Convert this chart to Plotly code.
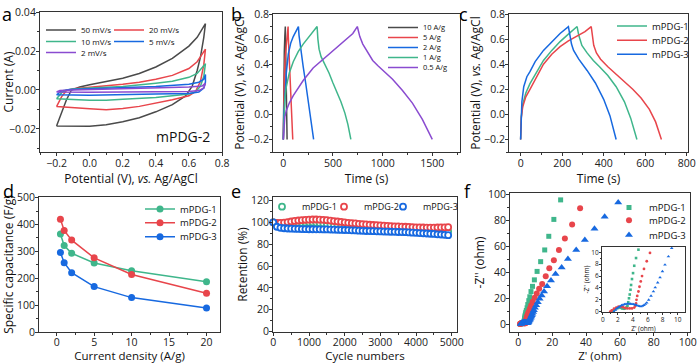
import plotly.graph_objects as go

W, H = 700, 363
FONT = "Open Sans"
C_GRAY = "#4a4a4a"
C_RED = "#e8454b"
C_GREEN = "#3fb68b"
C_BLUE = "#1769e0"
C_PURPLE = "#8a4bd0"

# ---------------- panel a: CV of mPDG-2 ----------------
cv_labels = ["50 mV/s", "20 mV/s", "10 mV/s", "5 mV/s", "2 mV/s"]
cv50_v = [-0.2, -0.17, -0.14, -0.11, -0.06, 0.0, 0.1, 0.2, 0.3, 0.4, 0.5, 0.6, 0.65, 0.7,
          0.69, 0.67, 0.65, 0.62, 0.58, 0.5, 0.4, 0.3, 0.2, 0.1, 0.0, -0.1, -0.2]
cv50_i = [-0.0185, -0.0115, -0.005, 0.0, 0.0015, 0.0027, 0.0043, 0.006, 0.0085, 0.0118, 0.0162, 0.0225, 0.027, 0.034,
          0.027, 0.017, 0.010, 0.002, -0.003, -0.0075, -0.0112, -0.0142, -0.0163, -0.0178, -0.0186, -0.0187, -0.0185]
cv20_v = [-0.2, -0.17, -0.14, -0.1, 0.0, 0.1, 0.2, 0.3, 0.4, 0.5, 0.6, 0.65, 0.7,
          0.69, 0.67, 0.64, 0.6, 0.5, 0.4, 0.3, 0.2, 0.1, 0.0, -0.1, -0.2]
cv20_i = [-0.0085, -0.0035, -0.0003, 0.0007, 0.0014, 0.0021, 0.0029, 0.004, 0.0055, 0.0075, 0.011, 0.0145, 0.021,
          0.013, 0.0045, -0.0008, -0.003, -0.005, -0.0068, -0.0084, -0.0095, -0.0101, -0.0096, -0.0089, -0.0085]
cv10_v = [-0.2, -0.17, -0.14, -0.1, 0.0, 0.2, 0.4, 0.5, 0.6, 0.65, 0.7,
          0.69, 0.67, 0.64, 0.6, 0.5, 0.4, 0.2, 0.1, 0.0, -0.1, -0.2]
cv10_i = [-0.0045, -0.0015, 0.0, 0.0005, 0.001, 0.0018, 0.0035, 0.0045, 0.0065, 0.0085, 0.0135,
          0.007, 0.002, -0.001, -0.002, -0.003, -0.0038, -0.0048, -0.0052, -0.0052, -0.0048, -0.0045]
cv5_v = [-0.2, -0.17, -0.12, 0.0, 0.2, 0.4, 0.6, 0.66, 0.69, 0.7,
         0.70, 0.69, 0.66, 0.6, 0.4, 0.2, 0.0, -0.2]
cv5_i = [-0.0025, -0.0005, 0.0002, 0.0005, 0.001, 0.0018, 0.003, 0.004, 0.0055, 0.008,
         0.004, 0.001, -0.001, -0.0018, -0.0021, -0.0025, -0.0027, -0.0025]
cv2_v = [-0.2, -0.18, -0.1, 0.0, 0.2, 0.4, 0.6, 0.68, 0.7,
         0.69, 0.66, 0.6, 0.4, 0.0, -0.2]
cv2_i = [-0.001, -0.0003, 0.0, 0.0002, 0.0005, 0.0009, 0.0015, 0.002, 0.0035,
         0.001, -0.0003, -0.0008, -0.001, -0.0012, -0.001]

# ---------------- panel b: GCD at different current densities ----------------
gcd_labels = ["10 A/g", "5 A/g", "2 A/g", "1 A/g", "0.5 A/g"]
g10_t = [0, 1, 3, 6, 10, 15, 20, 22, 26, 30, 34, 38]
g10_v = [-0.2, 0.0, 0.2, 0.35, 0.5, 0.62, 0.7, 0.6, 0.4, 0.2, 0.0, -0.2]
g5_t = [0, 2, 5, 10, 18, 28, 38, 48, 50, 60, 70, 80, 95]
g5_v = [-0.2, 0.0, 0.15, 0.3, 0.45, 0.56, 0.64, 0.7, 0.62, 0.45, 0.25, 0.07, -0.2]
g2_t = [0, 5, 17, 30, 50, 75, 100, 130, 152, 158, 175, 200, 225, 250, 275, 305]
g2_v = [-0.2, 0.0, 0.15, 0.33, 0.48, 0.57, 0.62, 0.67, 0.7, 0.63, 0.52, 0.38, 0.25, 0.11, -0.02, -0.2]
g1_t = [0, 5, 15, 30, 60, 100, 150, 200, 250, 300, 340,
        348, 360, 380, 420, 460, 500, 540, 580, 620, 650, 680]
g1_v = [-0.2, 0.0, 0.12, 0.22, 0.33, 0.42, 0.5, 0.56, 0.61, 0.66, 0.7,
        0.6, 0.52, 0.46, 0.4, 0.33, 0.25, 0.18, 0.1, 0.01, -0.08, -0.2]
g05_t = [0, 5, 15, 30, 60, 100, 150, 200, 300, 400, 500, 600, 700, 745,
         755, 770, 800, 850, 900, 950, 1000, 1100, 1200, 1300, 1400, 1500]
g05_v = [-0.2, -0.1, -0.02, 0.03, 0.09, 0.15, 0.21, 0.27, 0.37, 0.44, 0.51, 0.575, 0.645, 0.7,
         0.66, 0.62, 0.56, 0.49, 0.43, 0.39, 0.355, 0.28, 0.19, 0.09, -0.04, -0.2]

# ---------------- panel c: GCD of three samples ----------------
samples = ["mPDG-1", "mPDG-2", "mPDG-3"]
c1_t = [0, 3, 10, 25, 45, 70, 110, 150, 190, 230, 272,
        280, 295, 320, 350, 380, 420, 460, 500, 530, 560]
c1_v = [-0.2, -0.02, 0.08, 0.17, 0.245, 0.32, 0.43, 0.51, 0.58, 0.64, 0.7,
        0.63, 0.55, 0.49, 0.43, 0.38, 0.31, 0.22, 0.1, -0.03, -0.2]
c2_t = [0, 3, 10, 25, 45, 70, 110, 150, 190, 230, 270, 310, 340,
        345, 352, 365, 385, 420, 460, 500, 540, 580, 620, 650, 678]
c2_v = [-0.2, -0.03, 0.06, 0.14, 0.2, 0.28, 0.4, 0.48, 0.54, 0.585, 0.62, 0.66, 0.7,
        0.62, 0.55, 0.49, 0.44, 0.38, 0.32, 0.26, 0.2, 0.13, 0.04, -0.06, -0.2]
c3_t = [0, 2, 6, 15, 30, 45, 70, 110, 150, 190, 230,
        236, 245, 255, 280, 320, 360, 400, 430, 460]
c3_v = [-0.2, -0.05, 0.1, 0.22, 0.3, 0.34, 0.42, 0.51, 0.58, 0.645, 0.7,
        0.64, 0.56, 0.51, 0.44, 0.35, 0.25, 0.12, -0.01, -0.2]

# ---------------- panel d: rate capability ----------------
dens = [0.5, 1, 2, 5, 10, 20]
cap1 = [365, 322, 293, 257, 228, 187]
cap2 = [420, 378, 342, 276, 214, 144]
cap3 = [296, 258, 221, 169, 128, 89]

# ---------------- panel e: cycling stability ----------------
cycles = [0, 100, 200, 300, 400, 500, 600, 700, 800, 900,
          1000, 1100, 1200, 1300, 1400, 1500, 1600, 1700, 1800, 1900,
          2000, 2100, 2200, 2300, 2400, 2500, 2600, 2700, 2800, 2900,
          3000, 3100, 3200, 3300, 3400, 3500, 3600, 3700, 3800, 3900,
          4000, 4100, 4200, 4300, 4400, 4500, 4600, 4700, 4800, 4900]
ret1 = [100, 99.0, 98.8, 98.8, 98.9, 99.0, 99.2, 99.4, 99.6, 99.7,
        99.8, 99.8, 99.6, 99.3, 98.9, 98.4, 97.9, 97.4, 96.9, 96.5,
        96.1, 95.7, 95.4, 95.1, 94.8, 94.6, 94.4, 94.2, 94.0, 93.9,
        93.7, 93.6, 93.5, 93.4, 93.3, 93.2, 93.1, 93.0, 92.9, 92.8,
        92.7, 92.6, 92.5, 92.4, 92.3, 92.2, 92.1, 92.0, 91.9, 91.8]
ret2 = [100, 99.5, 99.5, 99.8, 100.3, 100.8, 101.3, 101.7, 102.0, 102.3,
        102.5, 102.6, 102.6, 102.5, 102.3, 102.0, 101.6, 101.2, 100.8, 100.4,
        100.0, 99.6, 99.3, 99.0, 98.7, 98.4, 98.1, 97.8, 97.6, 97.4,
        97.2, 97.0, 96.8, 96.6, 96.4, 96.3, 96.1, 96.0, 95.8, 95.7,
        95.5, 95.4, 95.3, 95.2, 95.2, 95.2, 95.3, 95.4, 95.5, 95.6]
ret3 = [100, 96.0, 95.0, 94.6, 94.4, 94.2, 94.1, 94.0, 93.9, 93.8,
        93.7, 93.7, 93.6, 93.6, 93.5, 93.5, 93.4, 93.3, 93.2, 93.1,
        93.0, 92.9, 92.7, 92.6, 92.4, 92.3, 92.1, 92.0, 91.9, 91.8,
        91.7, 91.6, 91.5, 91.4, 91.3, 91.2, 91.1, 91.0, 90.8, 90.6,
        90.4, 90.2, 90.0, 89.8, 89.6, 89.4, 89.1, 88.9, 88.6, 88.3]

# ---------------- panel f: Nyquist plots ----------------
z1_re = [1.2, 1.4, 1.6, 1.8, 2.0, 2.2, 2.4, 2.6, 2.8, 3.0, 3.2, 3.3, 3.4, 3.5, 3.6, 3.7, 3.78, 3.9, 4.04, 4.2, 4.44, 4.76,
         5.2, 5.6, 6.2, 6.8, 7.5, 8.4, 9.5, 11.1, 13.2, 15.6, 18.0, 21.0, 25.0]
z1_im = [0.0, 0.2, 0.4, 0.55, 0.65, 0.7, 0.65, 0.55, 0.5, 0.55, 0.8, 1.0, 1.6, 2.26, 2.9, 3.7, 4.5, 5.5, 6.5, 7.74, 9.04, 10.45,
         12.5, 15, 18, 21, 25, 29, 34, 40.5, 48, 57, 67.5, 80.5, 95.5]
z2_re = [1.0, 1.2, 1.5, 1.8, 2.1, 2.4, 2.7, 3.0, 3.3, 3.6, 3.9, 4.2, 4.35, 4.44, 4.5, 4.6, 4.76, 4.9, 5.07, 5.24, 5.5, 5.87, 6.3,
         6.9, 7.6, 8.5, 9.7, 10.9, 12.3, 14.1, 16.2, 18.3, 21.0, 24.0, 27.5, 31.8, 36.5]
z2_im = [0.0, 0.2, 0.5, 0.7, 0.85, 0.85, 0.75, 0.62, 0.56, 0.55, 0.56, 0.7, 1.0, 1.4, 2.0, 2.66, 3.4, 4.2, 5.1, 6.0, 7.2, 8.5, 9.9,
         12, 14.5, 17.2, 20.3, 23.5, 27.1, 30.9, 36.7, 43, 49.1, 57, 65.8, 76.5, 89.1]
z3_re = [1.5, 1.7, 1.9, 2.1, 2.3, 2.5, 2.7, 2.9, 3.1, 3.3, 3.5, 3.7, 3.9, 4.1, 4.3, 4.5, 4.7, 4.9, 5.1, 5.3, 5.5, 5.7, 5.87,
         6.13, 6.44, 6.76, 7.0, 7.33, 7.64, 7.96, 8.3, 8.76, 9.2,
         9.8, 10.6, 11.5, 12.6, 13.8, 15.2, 17.0, 19.3, 22.0, 25.6, 29.3, 34.2, 39.3, 45.0, 51.0, 59.0]
z3_im = [0.0, 0.3, 0.55, 0.75, 0.9, 1.05, 1.15, 1.25, 1.3, 1.33, 1.33, 1.32, 1.3, 1.25, 1.18, 1.1, 1.0, 0.92, 0.9, 0.95, 1.1, 1.3, 1.5,
         2.0, 2.66, 3.4, 4.07, 4.9, 5.76, 6.8, 7.9, 9.3, 10.7,
         12.5, 14.5, 16.8, 19.5, 22, 25, 29, 33.5, 38.5, 43.5, 50, 57, 64.7, 73.4, 82.5, 93.5]


def px_x(p):
    return p / W


def px_y(p):
    return 1 - p / H


fig = go.Figure()

# panel a traces
cv_sets = [(cv50_v, cv50_i, C_GRAY), (cv20_v, cv20_i, C_RED), (cv10_v, cv10_i, C_GREEN),
           (cv5_v, cv5_i, C_BLUE), (cv2_v, cv2_i, C_PURPLE)]
for k, (lab, (v, i, c)) in enumerate(zip(cv_labels, cv_sets)):
    fig.add_trace(go.Scatter(x=v, y=i, mode="lines", line=dict(color=c, width=1.5), name=lab,
                             xaxis="x", yaxis="y", legend="legend" if k == 0 else f"legend{k+1}"))

# panel b traces
gcd_sets = [(g10_t, g10_v, C_GRAY), (g5_t, g5_v, C_RED), (g2_t, g2_v, C_BLUE),
            (g1_t, g1_v, C_GREEN), (g05_t, g05_v, C_PURPLE)]
for k, (lab, (t, v, c)) in enumerate(zip(gcd_labels, gcd_sets)):
    fig.add_trace(go.Scatter(x=t, y=v, mode="lines", line=dict(color=c, width=1.5), name=lab,
                             xaxis="x2", yaxis="y2", legend=f"legend{6+k}"))

# panel c traces
c_sets = [(c1_t, c1_v, C_GREEN), (c2_t, c2_v, C_RED), (c3_t, c3_v, C_BLUE)]
for k, (lab, (t, v, c)) in enumerate(zip(samples, c_sets)):
    fig.add_trace(go.Scatter(x=t, y=v, mode="lines", line=dict(color=c, width=1.5), name=lab,
                             xaxis="x3", yaxis="y3", legend=f"legend{11+k}"))

# panel d traces
d_sets = [(cap1, C_GREEN), (cap2, C_RED), (cap3, C_BLUE)]
for k, (lab, (cap, c)) in enumerate(zip(samples, d_sets)):
    fig.add_trace(go.Scatter(x=dens, y=cap, mode="lines+markers", line=dict(color=c, width=1.5),
                             marker=dict(color=c, size=7), name=lab,
                             xaxis="x4", yaxis="y4", legend=f"legend{14+k}"))

# panel e traces
e_sets = [(ret1, C_GREEN), (ret2, C_RED), (ret3, C_BLUE)]
for k, (lab, (r, c)) in enumerate(zip(samples, e_sets)):
    fig.add_trace(go.Scatter(x=cycles, y=r, mode="markers", cliponaxis=False,
                             marker=dict(symbol="circle", size=6, color="white", line=dict(color=c, width=1.8)),
                             name=lab, xaxis="x5", yaxis="y5", legend=f"legend{17+k}"))

# panel f traces (main + inset)
f_sets = [(z1_re, z1_im, C_GREEN, "square", 5, 2.6), (z2_re, z2_im, C_RED, "circle", 6, 2.8),
          (z3_re, z3_im, C_BLUE, "triangle-up", 7, 3.2)]
for k, (lab, (zr, zi, c, sym, sz, szi)) in enumerate(zip(samples, f_sets)):
    fig.add_trace(go.Scatter(x=zr, y=zi, mode="markers", cliponaxis=False,
                             marker=dict(symbol=sym, size=sz, color=c), name=lab,
                             xaxis="x6", yaxis="y6", legend=f"legend{20+k}"))
for k, (lab, (zr, zi, c, sym, sz, szi)) in enumerate(zip(samples, f_sets)):
    fig.add_trace(go.Scatter(x=zr, y=zi, mode="markers", showlegend=False,
                             marker=dict(symbol=sym, size=szi, color=c), name=lab,
                             xaxis="x7", yaxis="y7"))


def axis(domain, rng, dtick, mdtick, anchor, title, fmt=None, standoff=0,
         tfs=10.5, ttfs=12, ticklen=3, mticklen=2, lso=-2):
    return dict(domain=domain, range=rng, anchor=anchor, showline=True, linecolor="#333", linewidth=1,
                mirror=True, ticks="outside", ticklen=ticklen, tickwidth=1, tickcolor="#333",
                showgrid=False, zeroline=False, tick0=0, dtick=dtick, tickformat=fmt,
                ticklabelstandoff=lso,
                tickfont=dict(size=tfs, color="#222", family=FONT),
                title=dict(text=title, font=dict(size=ttfs, color="#111", family=FONT), standoff=standoff),
                automargin=False,
                minor=dict(ticks="outside", ticklen=mticklen, tickcolor="#333", dtick=mdtick, showgrid=False))


VS = "Potential (V), <i>vs.</i> Ag/AgCl"
BOT = dict(standoff=3, ttfs=11.5, lso=-3)   # bottom-row x axes: keep title clear of tick labels
layout = dict(
    width=W, height=H, margin=dict(l=0, r=0, t=0, b=0),
    paper_bgcolor="white", plot_bgcolor="white",
    font=dict(family=FONT, color="#111"),
    xaxis=axis([px_x(40), px_x(222)], [-0.3, 0.8], 0.2, 0.1, "y", VS, ".1f"),
    yaxis=axis([px_y(152), px_y(12)], [-0.0318, 0.04], 0.02, 0.01, "x", "Current (A)", ".2f"),
    xaxis2=axis([px_x(273), px_x(460)], [-104, 1779], 500, 250, "y2", "Time (s)"),
    yaxis2=axis([px_y(152), px_y(14)], [-0.3, 0.8], 0.2, 0.1, "x2", VS, ".1f"),
    xaxis3=axis([px_x(509), px_x(688)], [-56, 806], 200, 100, "y3", "Time (s)"),
    yaxis3=axis([px_y(152), px_y(14)], [-0.3, 0.8], 0.2, 0.1, "x3", VS, ".1f"),
    xaxis4=axis([px_x(39), px_x(220)], [-2.36, 21.8], 5, 2.5, "y4", "Current density (A/g)", **BOT),
    yaxis4=axis([px_y(332), px_y(197)], [0, 502.5], 100, 50, "x4", "Specific capacitance (F/g)"),
    xaxis5=axis([px_x(273), px_x(457)], [-9, 5148], 1000, 500, "y5", "Cycle numbers", **BOT),
    yaxis5=axis([px_y(332), px_y(197)], [-0.3, 123.2], 20, 10, "x5", "Retention (%)"),
    xaxis6=axis([px_x(510), px_x(690)], [-4.9, 101.4], 20, 10, "y6", "Z' (ohm)", **BOT),
    yaxis6=axis([px_y(332), px_y(193)], [-6.1, 100.8], 20, 10, "x6", "-Z'' (ohm)"),
    xaxis7=axis([px_x(602), px_x(685)], [-0.1, 10.97], 2, 1, "y7", "Z' (ohm)", standoff=0,
                tfs=6.5, ttfs=6.5, ticklen=2, mticklen=1, lso=-1),
    yaxis7=axis([px_y(312), px_y(247)], [-0.05, 10.9], 2, 1, "x7", "-Z'' (ohm)", standoff=0,
                tfs=6.5, ttfs=6.5, ticklen=2, mticklen=1, lso=-1),
)


def leg(lx, cy, size):
    return dict(x=px_x(lx), y=px_y(cy), xanchor="left", yanchor="middle", orientation="v",
                bgcolor="rgba(0,0,0,0)", borderwidth=0, font=dict(size=size, family=FONT, color="#111"),
                tracegroupgap=0)


# legend key positions (left edge of legend box, row centre) in pixels
leg_pos = {
    "legend": (41, 30, 8), "legend2": (109, 30, 8), "legend3": (41, 41.5, 8),
    "legend4": (109, 41.5, 8), "legend5": (41, 52.5, 8),
    "legend6": (383, 27.5, 7.5), "legend7": (383, 37.5, 7.5), "legend8": (383, 47.5, 7.5),
    "legend9": (383, 57.5, 7.5), "legend10": (383, 67.5, 7.5),
    "legend11": (612, 26, 9.5), "legend12": (612, 40.3, 9.5), "legend13": (612, 54.3, 9.5),
    "legend14": (140, 209, 9.5), "legend15": (140, 222.7, 9.5), "legend16": (140, 236.7, 9.5),
    "legend17": (262, 206.7, 9), "legend18": (324, 206.7, 9), "legend19": (383, 206.7, 9),
    "legend20": (609, 207.5, 9.5), "legend21": (609, 220.3, 9.5), "legend22": (609, 235, 9.5),
}
for name, (lx, cy, sz) in leg_pos.items():
    layout[name] = leg(lx, cy, sz)

fig.update_layout(**layout)

letters = [("a", 7, 14), ("b", 236, 14), ("c", 464, 14), ("d", 8, 191), ("e", 236, 191), ("f", 467, 191)]
for txt, x, y in letters:
    fig.add_annotation(text=txt, x=px_x(x), y=px_y(y), xref="paper", yref="paper", showarrow=False,
                       xanchor="center", yanchor="middle", font=dict(size=18, family=FONT, color="#000"))
fig.add_annotation(text="mPDG-2", x=px_x(183), y=px_y(136), xref="paper", yref="paper", showarrow=False,
                   xanchor="center", yanchor="middle", font=dict(size=14, family=FONT, color="#111"))

fig.write_html("out.html", config={"displayModeBar": False},
               post_script="document.body.style.margin='0px';document.body.style.padding='0px';"
                           "document.documentElement.style.overflow='hidden';")
